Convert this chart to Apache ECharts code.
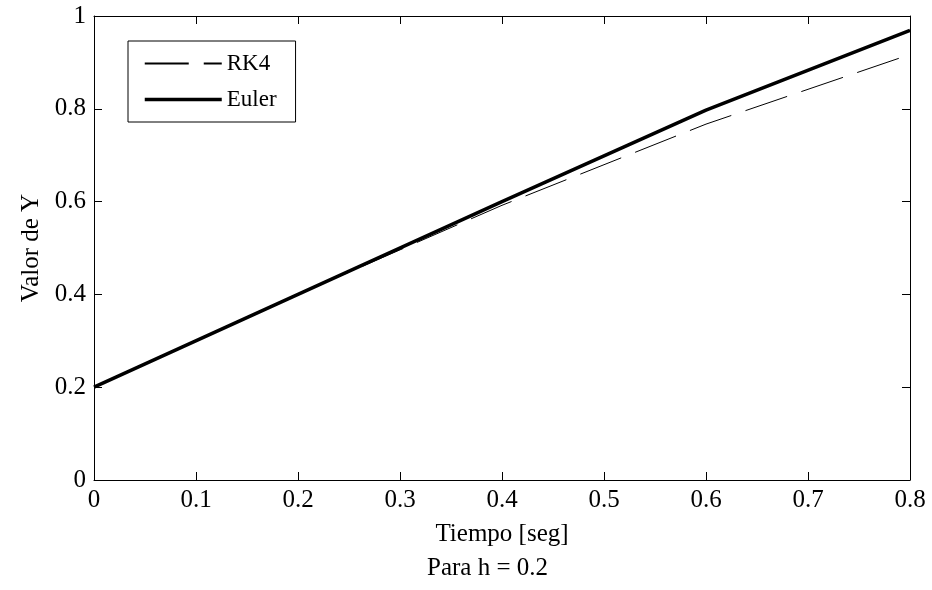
<!DOCTYPE html>
<html>
<head>
<meta charset="utf-8">
<script src="https://cdn.jsdelivr.net/npm/echarts@6/dist/echarts.min.js"></script>
<style>
  html, body { margin: 0; padding: 0; background: #fff; }
  #chart { width: 932px; height: 590px; }
</style>
</head>
<body>
<div id="chart"></div>
<script>
// tiempos (h = 0.2)
var tiempo = [0, 0.2, 0.4, 0.6, 0.8];
// valores
var rk4 = [0.2, 0.4, 0.592, 0.767, 0.917];
var euler = [0.2, 0.4, 0.6, 0.797, 0.969];

function pares(xs, ys) {
    return xs.map(function (x, i) { return [x, ys[i]]; });
}

var fuente = '"Liberation Serif", "Times New Roman", serif';

var myChart = echarts.init(document.getElementById('chart'));

// ejes espejo (arriba y derecha), solo marco y ticks
var ejeMarco = {
    axisLine: { show: true, onZero: false, lineStyle: { color: '#000', width: 1 } },
    axisTick: { show: true, inside: true, length: 8, lineStyle: { color: '#000' } },
    splitLine: { show: false },
    axisLabel: { show: false }
};

myChart.setOption({
    animation: false,
    textStyle: { fontFamily: fuente, color: '#000' },
    title: {
        text: 'Para h = 0.2',
        left: 427,
        top: 556,
        padding: 0,
        textStyle: { fontFamily: fuente, fontSize: 25, fontWeight: 'normal', color: '#000' }
    },
    legend: {
        orient: 'vertical',
        left: 128,
        top: 41,
        padding: [11, 19, 11, 15],
        borderColor: '#000',
        borderWidth: 1,
        itemWidth: 77,
        itemHeight: 22,
        itemGap: 13,
        itemStyle: { opacity: 0 },
        textStyle: { fontFamily: fuente, fontSize: 23, color: '#000' },
        data: [
            { name: 'RK4' },
            { name: 'Euler', lineStyle: { width: 3.5 } }
        ]
    },
    grid: { left: 94, right: 22, top: 16, bottom: 110 },
    xAxis: [
        {
            type: 'value',
            min: 0,
            max: 0.8,
            interval: 0.1,
            name: 'Tiempo [seg]',
            nameLocation: 'middle',
            nameGap: 42,
            nameTextStyle: { fontFamily: fuente, fontSize: 25, color: '#000' },
            axisLine: { show: true, onZero: false, lineStyle: { color: '#000', width: 1 } },
            axisTick: { show: true, inside: true, length: 8, lineStyle: { color: '#000' } },
            splitLine: { show: false },
            axisLabel: { margin: 8, fontFamily: fuente, fontSize: 25, color: '#000' }
        },
        Object.assign({ type: 'value', position: 'top', min: 0, max: 0.8, interval: 0.1 }, ejeMarco)
    ],
    yAxis: [
        {
            type: 'value',
            min: 0,
            max: 1,
            interval: 0.2,
            name: 'Valor de Y',
            nameLocation: 'middle',
            nameGap: 45,
            nameTextStyle: { fontFamily: fuente, fontSize: 25, color: '#000' },
            axisLine: { show: true, onZero: false, lineStyle: { color: '#000', width: 1 } },
            axisTick: { show: true, inside: true, length: 8, lineStyle: { color: '#000' } },
            splitLine: { show: false },
            axisLabel: { margin: 8, fontFamily: fuente, fontSize: 25, color: '#000' }
        },
        Object.assign({ type: 'value', position: 'right', min: 0, max: 1, interval: 0.2 }, ejeMarco)
    ],
    series: [
        {
            name: 'RK4',
            type: 'line',
            data: pares(tiempo, rk4),
            symbol: 'none',
            lineStyle: { color: '#000', width: 1, type: [44, 15] },
            itemStyle: { color: '#000' },
            z: 3
        },
        {
            name: 'Euler',
            type: 'line',
            data: pares(tiempo, euler),
            symbol: 'none',
            lineStyle: { color: '#000', width: 3.5 },
            itemStyle: { color: '#000' },
            z: 2
        }
    ]
});
</script>
</body>
</html>
